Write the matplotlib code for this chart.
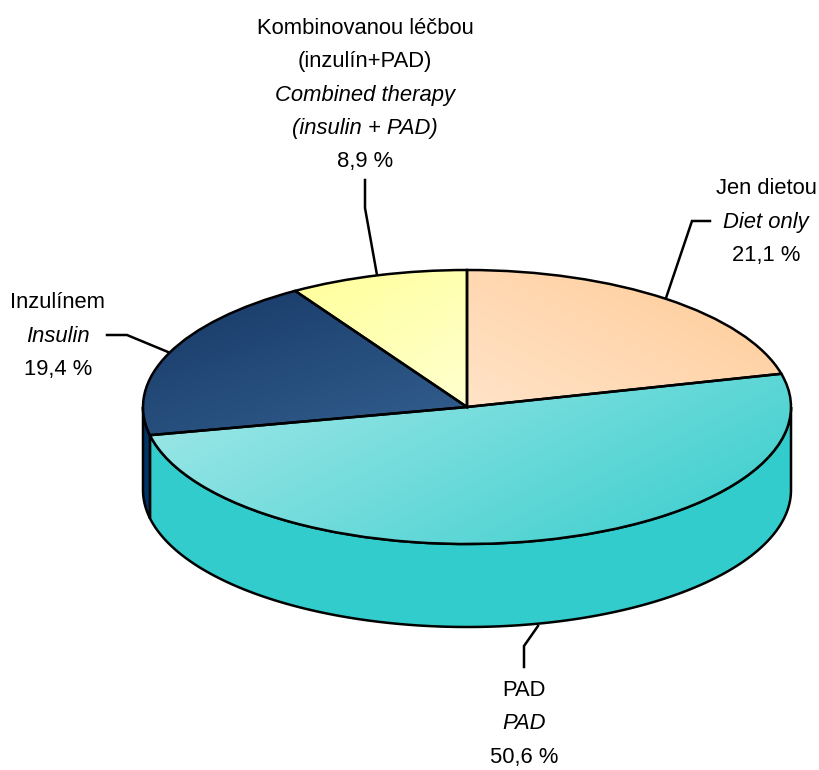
import numpy as np
import matplotlib
matplotlib.use("Agg")
import matplotlib.pyplot as plt
from matplotlib.patches import Wedge, Polygon
from matplotlib.transforms import Affine2D
from matplotlib.colors import to_rgb

# shares of each slice, clockwise from 12 o'clock
labels = ["Jen dietou", "PAD", "Inzulínem", "Kombinovanou léčbou\n(inzulín+PAD)"]
labels_en = ["Diet only", "PAD", "Insulin", "Combined therapy\n(insulin + PAD)"]
values = [21.1, 50.6, 19.4, 8.9]
value_text = ["21,1 %", "50,6 %", "19,4 %", "8,9 %"]

# gradient start/end colours and direction (dx, dy in pixels, y down)
grad_from = ["#FFCB96", "#A6E9E9", "#173866", "#FFFF99"]
grad_to = ["#FFE3C8", "#35CCCC", "#33608F", "#FFFFD0"]
grad_dir = [(-0.5, 1), (0.5, 1), (0.35, 1), (0.6, 1)]
side_colors = ["#FFCC99", "#33CCCC", "#003366", "#FFFF99"]

# leader lines and label centres, in pixels
leaders = [
    ([666, 692, 710], [298, 221, 221]),
    ([538, 524, 524], [626, 646, 667]),
    ([168, 127, 107], [352, 335, 335]),
    ([377, 365, 365], [275, 208, 180]),
]
label_x = [766, 524, 58, 365]
label_y = [189, 690, 303, 28]

cx, cy, rx, ry, depth = 467, 407, 324, 137, 83
line_h = 33.5
font_px = 22
edge_w = 1.8

plt.rcParams["font.family"] = ["Liberation Sans"]

fig = plt.figure(figsize=(8.2, 7.7), dpi=100)
ax = fig.add_axes([0, 0, 1, 1])
ax.set_xlim(0, 820)
ax.set_ylim(770, 0)
ax.axis("off")

disc = Affine2D().scale(rx, -ry).translate(cx, cy) + ax.transData

# slice angles
shares = np.array(values) / sum(values) * 360
ends = 90 - np.cumsum(shares)
starts = ends + shares

# side wall, only the front half of the disc can be seen
for s, e, col in zip(starts, ends, side_colors):
    t0, t1 = e % 360, s % 360
    if t1 <= t0:
        t1 += 360
    t0 = max(t0, 180)
    t1 = min(t1, 360)
    if t1 <= t0:
        continue
    t = np.radians(np.linspace(t0, t1, 200))
    x = cx + rx * np.cos(t)
    y = cy - ry * np.sin(t)
    pts = np.r_[np.c_[x, y], np.c_[x[::-1], y[::-1] + depth]]
    ax.add_patch(Polygon(pts, closed=True, fc=col, ec="black", lw=edge_w, zorder=2))

# top faces with gradient fill
yy, xx = np.mgrid[0:770, 0:820]
for i, (s, e) in enumerate(zip(starts, ends)):
    w = Wedge((0, 0), 1, e, s, transform=disc, fc="none", ec="black", lw=edge_w, zorder=4)
    ax.add_patch(w)
    verts = w.get_transform().transform(w.get_path().vertices)
    verts = ax.transData.inverted().transform(verts)
    dx, dy = grad_dir[i]
    p = xx * dx + yy * dy
    x0, x1 = verts[:, 0].min(), verts[:, 0].max()
    y0, y1 = verts[:, 1].min(), verts[:, 1].max()
    corners = np.array([[x0, y0], [x1, y0], [x0, y1], [x1, y1]]) @ np.array([dx, dy])
    f = np.clip((p - corners.min()) / (corners.max() - corners.min()), 0, 1)[..., None]
    img = np.array(to_rgb(grad_from[i])) * (1 - f) + np.array(to_rgb(grad_to[i])) * f
    im = ax.imshow(img, extent=(0, 820, 770, 0), aspect="auto", zorder=3, interpolation="bilinear")
    im.set_clip_path(w)
ax.set_xlim(0, 820)
ax.set_ylim(770, 0)

# leaders and labels
for (lx, ly) in leaders:
    ax.plot(lx, ly, color="black", lw=edge_w, zorder=1, solid_joinstyle="miter")

for i in range(len(values)):
    rows = [(t, "normal") for t in labels[i].split("\n")]
    rows += [(t, "italic") for t in labels_en[i].split("\n")]
    rows += [(value_text[i], "normal")]
    for j, (t, st) in enumerate(rows):
        ax.text(label_x[i], label_y[i] + j * line_h, t, style=st, fontsize=font_px * 0.72,
                ha="center", va="center", color="black")

fig.savefig("out.png", dpi=100)
